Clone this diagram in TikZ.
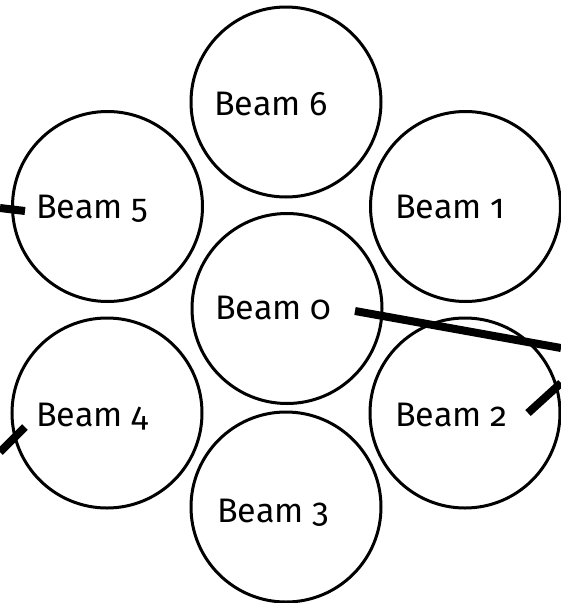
\documentclass[tikz,border=0pt]{standalone}
\usepackage{fontspec}
\setmainfont{Fira Sans}[Numbers=OldStyle]
\begin{document}
\begin{tikzpicture}[x=1pt,y=-1pt,
  beam/.style={circle,draw=black,line width=3pt,minimum size=190pt,inner sep=0pt},
  tag/.style={anchor=base west,inner sep=0pt,font=\fontsize{34}{36}\selectfont},
  lead/.style={draw=black,line width=8pt,line cap=butt}]
\useasboundingbox (0,0) rectangle (561,603);
% beam circles
\node[beam] (b0) at (287,308.5) {};
\node[beam] (b6) at (286,102) {};
\node[beam] (b3) at (286,507) {};
\node[beam] (b5) at (107.5,206.5) {};
\node[beam] (b4) at (107,413) {};
\node[beam] (b1) at (465.5,206.5) {};
\node[beam] (b2) at (465,413) {};
% beam labels
\node[tag] (t0) at (215,319) {Beam 0};
\node[tag] (t6) at (214,115.5) {Beam 6};
\node[tag] (t3) at (217,522) {Beam 3};
\node[tag] (t5) at (36,218) {Beam 5};
\node[tag] (t4) at (36,426) {Beam 4};
\node[tag] (t1) at (395,218) {Beam 1};
\node[tag] (t2) at (395,426) {Beam 2};
% lead lines
\coordinate (s5) at (25,211);
\coordinate (e5) at (0,208);
\coordinate (s4) at (25,427);
\coordinate (e4) at (0,452);
\coordinate (s0) at (355,311);
\coordinate (e0) at (561,348);
\coordinate (s2) at (528,413);
\coordinate (e2) at (561,383);
\draw[lead] (s5) -- (e5);
\draw[lead] (s4) -- (e4);
\draw[lead] (s0) -- (e0);
\draw[lead] (s2) -- (e2);
\end{tikzpicture}
\end{document}
